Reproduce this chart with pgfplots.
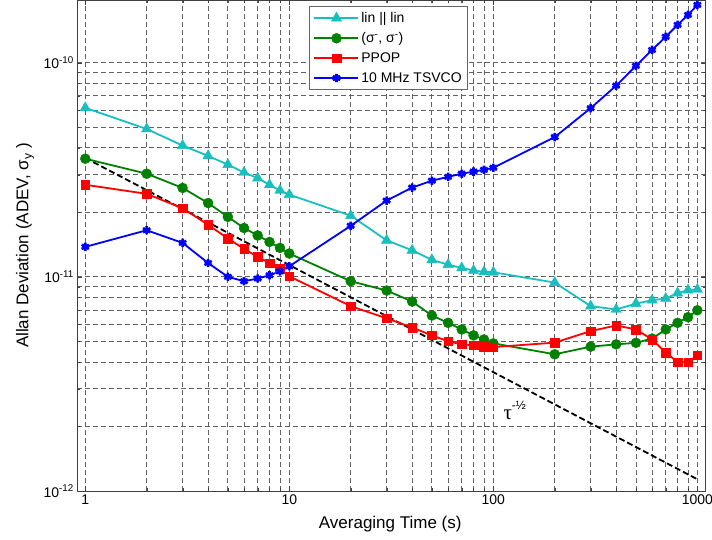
\documentclass[border=0pt]{standalone}
\usepackage{fontspec}
\setmainfont{Liberation Sans}
\newfontfamily\seriffont{Liberation Serif}
\usepackage{pgfplots}
\pgfplotsset{compat=1.18}
\definecolor{cteal}{rgb}{0.1,0.75,0.75}
\definecolor{cgreen}{rgb}{0,0.5,0}
\definecolor{cgrid}{rgb}{0.38,0.38,0.38}

\pgfplotstableread{
x y
1 6.15e-11
2 4.9e-11
3 4.1e-11
4 3.67e-11
5 3.34e-11
6 3.07e-11
7 2.89e-11
8 2.69e-11
9 2.53e-11
10 2.42e-11
20 1.93e-11
30 1.48e-11
40 1.33e-11
50 1.2e-11
60 1.14e-11
70 1.10e-11
80 1.07e-11
90 1.055e-11
100 1.05e-11
200 9.4e-12
300 7.3e-12
400 7.04e-12
500 7.5e-12
600 7.78e-12
700 7.92e-12
800 8.4e-12
900 8.66e-12
1000 8.73e-12
}\teal

\pgfplotstableread{
x y
1 3.56e-11
2 3.03e-11
3 2.6e-11
4 2.21e-11
5 1.905e-11
6 1.69e-11
7 1.56e-11
8 1.455e-11
9 1.365e-11
10 1.285e-11
20 9.54e-12
30 8.63e-12
40 7.67e-12
50 6.6e-12
60 6.1e-12
70 5.68e-12
80 5.33e-12
90 5.1e-12
100 4.89e-12
200 4.35e-12
300 4.72e-12
400 4.84e-12
500 4.92e-12
600 5.15e-12
700 5.68e-12
800 6.1e-12
900 6.48e-12
1000 6.98e-12
}\green

\pgfplotstableread{
x y
1 2.69e-11
2 2.44e-11
3 2.09e-11
4 1.75e-11
5 1.51e-11
6 1.35e-11
7 1.24e-11
8 1.16e-11
9 1.09e-11
10 1.006e-11
20 7.3e-12
30 6.4e-12
40 5.8e-12
50 5.33e-12
60 5.0e-12
70 4.84e-12
80 4.79e-12
90 4.72e-12
100 4.7e-12
200 4.93e-12
300 5.58e-12
400 5.93e-12
500 5.68e-12
600 5.1e-12
700 4.43e-12
800 4.0e-12
900 4.0e-12
1000 4.3e-12
}\red

\pgfplotstableread{
x y
1 1.38e-11
2 1.65e-11
3 1.44e-11
4 1.16e-11
5 1.0e-11
6 9.54e-12
7 9.82e-12
8 1.017e-11
9 1.06e-11
10 1.12e-11
20 1.73e-11
30 2.27e-11
40 2.61e-11
50 2.81e-11
60 2.93e-11
70 3.03e-11
80 3.1e-11
90 3.16e-11
100 3.23e-11
200 4.49e-11
300 6.13e-11
400 7.81e-11
500 9.66e-11
600 1.146e-10
700 1.32e-10
800 1.5e-10
900 1.67e-10
1000 1.86e-10
}\blue

\begin{document}
\begin{tikzpicture}
\begin{axis}[
  xmode=log, ymode=log,
  scale only axis, width=628.4pt, height=491pt,
  xmin=0.914, xmax=1099, ymin=1e-12, ymax=1.96e-10,
  xtick={1,10,100,1000}, xticklabels={1,10,100,1000},
  ytick={1e-12,1e-11,1e-10},
  yticklabels={10\textsuperscript{-12},10\textsuperscript{-11},10\textsuperscript{-10}},
  minor xtick={2,3,4,5,6,7,8,9,20,30,40,50,60,70,80,90,200,300,400,500,600,700,800,900},
  minor ytick={2e-12,3e-12,4e-12,5e-12,6e-12,7e-12,8e-12,9e-12,2e-11,3e-11,4e-11,5e-11,6e-11,7e-11,8e-11,9e-11},
  grid=both,
  major grid style={cgrid, line width=0.8pt, dash pattern=on 5pt off 3pt},
  minor grid style={cgrid, line width=0.8pt, dash pattern=on 5pt off 3pt},
  tick align=inside, major tick length=5pt, minor tick length=3pt,
  tick style={black!75},
  axis line style={black!75, line width=0.8pt},
  ticklabel style={font=\fontsize{14}{16}\selectfont},
  label style={font=\fontsize{17}{20}\selectfont},
  xlabel={Averaging Time (s)},
  ylabel={Allan Deviation (ADEV, σ\raisebox{-0.35ex}{\fontsize{12}{12}\selectfont y} )},
  xlabel style={at={(axis description cs:0.498,0)}, anchor=center, yshift=-33pt},
  ylabel style={at={(axis description cs:-0.083,0.5)}, anchor=center},
  legend style={at={(axis description cs:0.369,0.988)}, anchor=north west,
    draw=black!60, line width=0.8pt, fill=white,
    font=\fontsize{14}{16}\selectfont, row sep=4.5pt,
    inner xsep=4pt, inner ysep=4pt, cells={anchor=west}},
  legend image code/.code={\draw[mark repeat=2,mark phase=2,#1] plot coordinates {(0pt,0pt) (22pt,0pt) (44pt,0pt)};},
]
\addplot[black, line width=1.8pt, dash pattern=on 6pt off 3pt, forget plot] coordinates {(1,3.59e-11) (1000,1.135e-12)};
\addplot[cteal, line width=1.8pt, mark=triangle*, mark size=6pt, mark options={solid, line width=0.4pt}] table {\teal};
\addlegendentry{lin || lin}
\addplot[cgreen, line width=1.8pt, mark=*, mark size=5pt, mark options={solid, line width=0.4pt}] table {\green};
\addlegendentry{(σ\textsuperscript{-}, σ\textsuperscript{-})}
\addplot[red, line width=1.8pt, mark=square*, mark size=4.3pt, mark options={solid, line width=0.4pt}] table {\red};
\addlegendentry{PPOP}
\addplot[blue, line width=1.8pt, mark=asterisk, mark size=4.2pt, mark options={solid, line width=2.6pt}] table {\blue};
\addlegendentry{10 MHz TSVCO}
\node[anchor=base west, inner sep=0pt, font=\fontsize{21}{24}\selectfont] at (axis cs:112,2.16e-12) {{\seriffont τ}\raisebox{0.9ex}{\fontsize{12}{12}\selectfont -½}};
\end{axis}
\pgfresetboundingbox
\useasboundingbox (-77.3pt,-48pt) rectangle (634.7pt,491pt);
\end{tikzpicture}
\end{document}
